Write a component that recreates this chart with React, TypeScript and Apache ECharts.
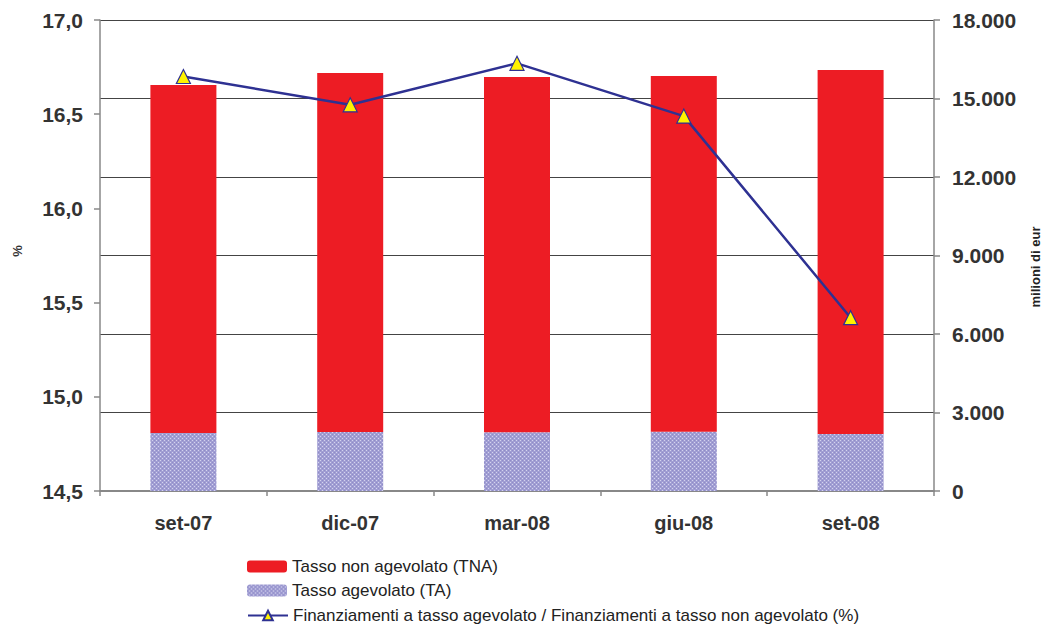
import React, { useEffect, useRef } from "react";
import * as echarts from "echarts";

const categories = ["set-07", "dic-07", "mar-08", "giu-08", "set-08"];
const taValues = [2217, 2255, 2250, 2266, 2178];
const tnaValues = [13300, 13720, 13570, 13595, 13910];
const ratioValues = [16.7, 16.55, 16.77, 16.49, 15.42];

const nameTNA = "Tasso non agevolato (TNA)";
const nameTA = "Tasso agevolato (TA)";
const nameRatio = "Finanziamenti a tasso agevolato / Finanziamenti a tasso non agevolato (%)";
const leftAxisName = "%";
const rightAxisName = "milioni di eur";

const FONT = "'Liberation Sans', Arial, Helvetica, sans-serif";

function makePattern(): HTMLCanvasElement {
  const c = document.createElement("canvas");
  c.width = 4;
  c.height = 4;
  const ctx = c.getContext("2d")!;
  ctx.fillStyle = "#a19ed3";
  ctx.fillRect(0, 0, 4, 4);
  ctx.fillStyle = "#d4d3ef";
  ctx.fillRect(0, 0, 1, 1);
  ctx.fillRect(2, 2, 1, 1);
  ctx.fillStyle = "#8f8cc8";
  ctx.fillRect(2, 0, 1, 1);
  ctx.fillRect(0, 2, 1, 1);
  return c;
}

function legendAt(name: string, top: number) {
  return {
    orient: "vertical",
    left: 247,
    top,
    padding: 0,
    itemWidth: 40,
    itemHeight: 12,
    textStyle: { fontSize: 17, color: "#222", fontFamily: FONT },
    data: [name],
  };
}

export default function App() {
  const ref = useRef<HTMLDivElement>(null);
  useEffect(() => {
    if (!ref.current) return;
    const chart = echarts.init(ref.current, null, { renderer: "svg" });
    const pattern = makePattern();
    chart.setOption({
      animation: false,
      backgroundColor: "#ffffff",
      textStyle: { fontFamily: FONT },
      grid: { left: 100, right: 110, top: 20, bottom: 136, containLabel: false },
      legend: [legendAt(nameTNA, 558), legendAt(nameTA, 582), legendAt(nameRatio, 607)],
      graphic: [
        {
          type: "text",
          x: 17,
          y: 251,
          rotation: Math.PI / 2,
          style: {
            text: leftAxisName,
            fontSize: 13,
            fontWeight: "bold",
            fill: "#333",
            fontFamily: FONT,
            align: "center",
            verticalAlign: "middle",
          },
        },
        {
          type: "text",
          x: 1035,
          y: 267,
          rotation: Math.PI / 2,
          style: {
            text: rightAxisName,
            fontSize: 13,
            fontWeight: "bold",
            fill: "#222",
            fontFamily: FONT,
            align: "center",
            verticalAlign: "middle",
          },
        },
      ],
      xAxis: {
        type: "category",
        data: categories,
        axisLine: { lineStyle: { color: "#888", width: 2 } },
        axisTick: { show: true, alignWithLabel: false, length: 5, lineStyle: { color: "#888", width: 1.5 } },
        axisLabel: { fontSize: 20, fontWeight: "bold", color: "#333", margin: 22, fontFamily: FONT },
      },
      yAxis: [
        {
          type: "value",
          position: "left",
          min: 14.5,
          max: 17,
          interval: 0.5,
          axisLine: { show: true, lineStyle: { color: "#888", width: 1.5 } },
          axisTick: { show: true, length: 6, lineStyle: { color: "#888", width: 1.5 } },
          splitLine: { show: false },
          axisLabel: {
            fontSize: 21,
            fontWeight: "bold",
            color: "#333",
            margin: 17,
            fontFamily: FONT,
            formatter: (v: number) => v.toFixed(1).replace(".", ","),
          },
        },
        {
          type: "value",
          position: "right",
          min: 0,
          max: 18000,
          interval: 3000,
          axisLine: { show: true, lineStyle: { color: "#888", width: 1.5 } },
          axisTick: { show: true, length: 6, lineStyle: { color: "#888", width: 1.5 } },
          splitLine: { show: true, lineStyle: { color: "#444", width: 1 } },
          axisLabel: {
            fontSize: 21,
            fontWeight: "bold",
            color: "#333",
            margin: 18,
            fontFamily: FONT,
            formatter: (v: number) => (v === 0 ? "0" : (v / 1000).toFixed(0) + ".000"),
          },
        },
      ],
      series: [
        {
          name: nameTA,
          type: "bar",
          stack: "tot",
          yAxisIndex: 1,
          barWidth: 66,
          data: taValues,
          itemStyle: { color: { image: pattern, repeat: "repeat" } as any },
        },
        {
          name: nameTNA,
          type: "bar",
          stack: "tot",
          yAxisIndex: 1,
          barWidth: 66,
          data: tnaValues,
          itemStyle: { color: "#ed1c24" },
        },
        {
          name: nameRatio,
          type: "line",
          yAxisIndex: 0,
          data: ratioValues,
          symbol: "triangle",
          symbolSize: 14,
          z: 5,
          lineStyle: { color: "#2e3192", width: 2.5 },
          itemStyle: { color: "#fff200", borderColor: "#2e3192", borderWidth: 1.2 },
        },
      ],
    });
    return () => chart.dispose();
  }, []);
  return (
    <div
      ref={ref}
      style={{ position: "fixed", left: 0, top: 0, width: 1044, height: 627 }}
    />
  );
}
